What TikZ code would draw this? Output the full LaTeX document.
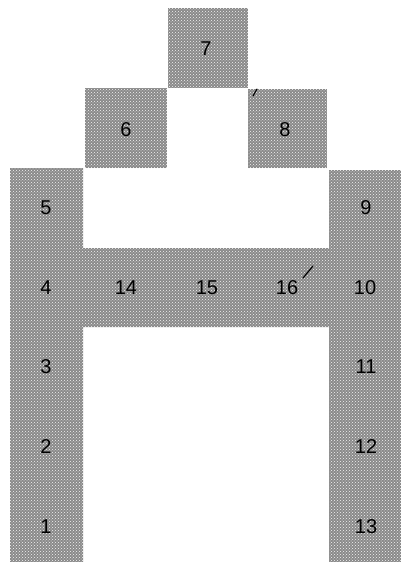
\documentclass[tikz,border=0pt]{standalone}
\usepackage{fontspec}
\setmainfont{Liberation Sans}
\usepackage{tikz}
\usetikzlibrary{patterns}
\definecolor{cellgray}{RGB}{138,138,138}

\tikzset{
  cellfill/.style={fill=cellgray,postaction={pattern=crosshatch dots,pattern color=white!90!cellgray}},
  num/.style={inner sep=0pt,font=\fontsize{20}{22}\selectfont},
  leader/.style={line width=1.1pt,line cap=round}
}

\begin{document}
\begin{tikzpicture}[x=1pt,y=-1pt]
  \useasboundingbox (0,0) rectangle (401,562);
  % H shaped frame
  \fill[cellfill] (10,168)--(83,168)--(83,248)--(329,248)--(329,170)--(401,170)
    --(401,562)--(329,562)--(329,327)--(83,327)--(83,562)--(10,562)--cycle;
  % top boxes
  \fill[cellfill] (85,88) rectangle (167,168);
  \fill[cellfill] (168,8) rectangle (248,88);
  \fill[cellfill] (248,89) rectangle (327,168);
  % left column
  \node[num] (c1) at (46,527) {1};
  \node[num] (c2) at (46,447) {2};
  \node[num] (c3) at (46,367) {3};
  \node[num] (c4) at (46,288) {4};
  \node[num] (c5) at (46,208) {5};
  % top
  \node[num] (c6) at (126,130) {6};
  \node[num] (c7) at (206,49) {7};
  \node[num] (c8) at (285,130) {8};
  % right column
  \node[num] (c9) at (366,208) {9};
  \node[num] (c10) at (365,288) {10};
  \node[num] (c11) at (366,367) {11};
  \node[num] (c12) at (366,447) {12};
  \node[num] (c13) at (366,527) {13};
  % cross bar
  \node[num] (c14) at (126,288) {14};
  \node[num] (c15) at (207,288) {15};
  \node[num] (c16) at (287,288) {16};
  % small marks
  \coordinate (m16a) at (303,278);
  \coordinate (m16b) at (313,266);
  \draw[leader] (m16a) -- (m16b);
  \coordinate (m8a) at (253,96);
  \coordinate (m8b) at (257,89);
  \draw[leader] (m8a) -- (m8b);
\end{tikzpicture}
\end{document}
